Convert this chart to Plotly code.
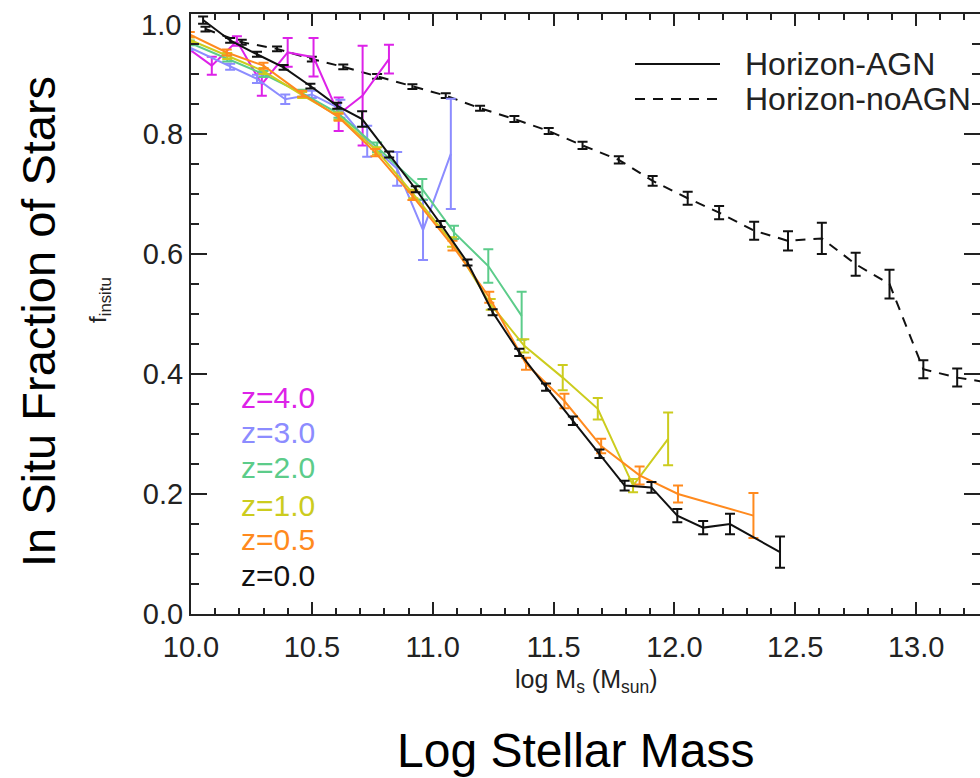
import plotly.graph_objects as go

# ---------------- data ----------------
noagn_x = [10.06, 10.21, 10.356, 10.50, 10.63, 10.77, 10.916, 11.054, 11.196, 11.338, 11.48, 11.62,
           11.77, 11.91, 12.055, 12.185, 12.33, 12.47, 12.61, 12.75, 12.89, 13.03, 13.17, 13.31]
noagn_y = [0.975, 0.953, 0.942, 0.925, 0.912, 0.896, 0.879, 0.864, 0.843, 0.825, 0.805, 0.781,
           0.757, 0.722, 0.693, 0.669, 0.639, 0.622, 0.626, 0.583, 0.550, 0.408, 0.394, 0.385]
noagn_e = [0.004, 0.004, 0.004, 0.004, 0.004, 0.004, 0.004, 0.004, 0.004, 0.005, 0.005, 0.006,
           0.006, 0.008, 0.011, 0.011, 0.015, 0.016, 0.026, 0.019, 0.024, 0.015, 0.015, 0.015]

agn_x = [10.05, 10.162, 10.273, 10.383, 10.494, 10.605, 10.708, 10.82, 10.93, 11.033, 11.144, 11.248,
         11.358, 11.469, 11.58, 11.69, 11.794, 11.905, 12.012, 12.119, 12.23, 12.437]
agn_y = [0.99, 0.956, 0.933, 0.911, 0.88, 0.847, 0.825, 0.766, 0.708, 0.65, 0.586, 0.503,
         0.436, 0.378, 0.322, 0.267, 0.214, 0.211, 0.164, 0.144, 0.15, 0.103]
agn_e = [0.006, 0.004, 0.004, 0.004, 0.004, 0.005, 0.013, 0.005, 0.005, 0.005, 0.005, 0.005,
         0.006, 0.006, 0.007, 0.007, 0.008, 0.009, 0.011, 0.011, 0.017, 0.026]

orange_x = [9.995, 10.148, 10.30, 10.46, 10.611, 10.763, 10.916, 11.082, 11.234, 11.386, 11.545,
            11.697, 11.856, 12.015, 12.327]
orange_y = [0.966, 0.936, 0.914, 0.867, 0.828, 0.769, 0.697, 0.614, 0.528, 0.417, 0.355,
            0.280, 0.231, 0.200, 0.164]
orange_e = [0.004, 0.005, 0.005, 0.005, 0.006, 0.006, 0.007, 0.008, 0.009, 0.010, 0.012,
            0.012, 0.015, 0.014, 0.0375]

yellow_x = [9.995, 10.15, 10.30, 10.46, 10.61, 10.77, 10.92, 11.08, 11.24, 11.379, 11.538,
            11.683, 11.829, 11.974]
yellow_y = [0.957, 0.930, 0.905, 0.865, 0.830, 0.772, 0.700, 0.620, 0.516, 0.447, 0.394,
            0.342, 0.214, 0.292]
yellow_e = [0.004, 0.005, 0.005, 0.005, 0.006, 0.006, 0.007, 0.008, 0.009, 0.011, 0.021,
            0.018, 0.011, 0.044]

green_x = [9.995, 10.15, 10.30, 10.46, 10.61, 10.77, 10.957, 11.088, 11.23, 11.368]
green_y = [0.952, 0.926, 0.900, 0.868, 0.834, 0.778, 0.708, 0.636, 0.580, 0.497]
green_e = [0.004, 0.005, 0.005, 0.006, 0.007, 0.008, 0.017, 0.011, 0.028, 0.040]

blue_x = [9.99, 10.162, 10.273, 10.39, 10.50, 10.618, 10.729, 10.853, 10.96, 11.075]
blue_y = [0.945, 0.912, 0.892, 0.858, 0.866, 0.842, 0.788, 0.742, 0.640, 0.767]
blue_e = [0.005, 0.005, 0.007, 0.008, 0.006, 0.015, 0.026, 0.028, 0.050, 0.092]

mag_x = [9.98, 10.086, 10.19, 10.293, 10.40, 10.507, 10.611, 10.71, 10.819]
mag_y = [0.945, 0.914, 0.955, 0.883, 0.936, 0.928, 0.833, 0.864, 0.925]
mag_e = [0.010, 0.015, 0.008, 0.019, 0.024, 0.032, 0.028, 0.083, 0.024]

z_labels = ["z=4.0", "z=3.0", "z=2.0", "z=1.0", "z=0.5", "z=0.0"]
z_colors = ["#dd22e8", "#8c8cff", "#5ccc8a", "#cccc1e", "#ff8a1e", "#111111"]
legend_names = ["Horizon-AGN", "Horizon-noAGN"]
top_ylabel = "1.0"

FONT = "Liberation Sans, Arial, Helvetica, sans-serif"
W, H = 980, 778
ML, MR, MT, MB = 191, 0, 14, 164
PW, PH = W - ML - MR, H - MT - MB
XR = [10.0, 10.0 + PW / 241.7]


def px(xp):
    return (xp - ML) / PW


def py(yp):
    return (MT + PH - yp) / PH


fig = go.Figure()


def add_series(x, y, e, color, dash="solid"):
    fig.add_trace(go.Scatter(
        x=x, y=y, mode="lines",
        line=dict(color=color, width=2, dash=dash),
        error_y=dict(type="data", array=e, visible=True, color=color, thickness=2, width=5),
        showlegend=False, hoverinfo="skip"))


add_series(noagn_x, noagn_y, noagn_e, "#111111", dash="10px,8px")
add_series(mag_x, mag_y, mag_e, z_colors[0])
add_series(blue_x, blue_y, blue_e, z_colors[1])
add_series(green_x, green_y, green_e, z_colors[2])
add_series(yellow_x, yellow_y, yellow_e, z_colors[3])
add_series(orange_x, orange_y, orange_e, z_colors[4])
add_series(agn_x, agn_y, agn_e, z_colors[5])

axis_common = dict(
    showline=True, linecolor="#222222", linewidth=2, mirror="ticks",
    ticks="inside", tickcolor="#222222", tickwidth=2,
    showgrid=False, zeroline=False, tickformat=".1f",
    tickfont=dict(family=FONT, size=29, color="#222222"),
)
fig.update_xaxes(range=XR, tick0=10, dtick=0.5, ticklen=12, ticklabelstandoff=6,
                 minor=dict(dtick=0.1, ticklen=6, tickwidth=1.5, ticks="inside", tickcolor="#222222"),
                 **axis_common)
# the top label (1.0) sits just below its tick in the original; it is written as an annotation below
fig.update_yaxes(range=[0, 1.0001], tick0=0, dtick=0.2, ticklen=16, labelalias={top_ylabel: " "},
                 minor=dict(dtick=0.05, ticklen=8, tickwidth=1.5, ticks="inside", tickcolor="#222222"),
                 **axis_common)

ann = []
ann.append(dict(text=top_ylabel, x=px(183), y=py(25), xref="paper", yref="paper", showarrow=False,
                font=dict(family=FONT, size=29, color="#222222"), xanchor="right", yanchor="middle"))
# axis titles
ann.append(dict(text="log M<sub>s</sub> (M<sub>sun</sub>)", x=px(586), y=py(681), xref="paper", yref="paper",
                showarrow=False, font=dict(family=FONT, size=25, color="#222222"), xanchor="center", yanchor="middle"))
ann.append(dict(text="f<sub>insitu</sub>", x=px(99), y=py(300), xref="paper", yref="paper",
                showarrow=False, textangle=-90, font=dict(family=FONT, size=24, color="#222222"),
                xanchor="center", yanchor="middle"))
# big titles
ann.append(dict(text="Log Stellar Mass", x=px(576), y=py(750), xref="paper", yref="paper",
                showarrow=False, font=dict(family=FONT, size=48, color="#000000"), xanchor="center", yanchor="middle"))
ann.append(dict(text="In Situ Fraction of Stars", x=px(38), y=py(322), xref="paper", yref="paper",
                showarrow=False, textangle=-90, font=dict(family=FONT, size=47, color="#000000"),
                xanchor="center", yanchor="middle"))
# z labels
z_y = [397, 432, 468, 505, 539, 575]
for lab, col, yy in zip(z_labels, z_colors, z_y):
    ann.append(dict(text=lab, x=px(239), y=py(yy), xref="paper", yref="paper", showarrow=False,
                    font=dict(family=FONT, size=30, color=col), xanchor="left", yanchor="middle"))
# legend
leg_y = [64, 99]
for name, yy in zip(legend_names, leg_y):
    ann.append(dict(text=name, x=px(743), y=py(yy), xref="paper", yref="paper", showarrow=False,
                    font=dict(family=FONT, size=32, color="#222222"), xanchor="left", yanchor="middle"))

shapes = [
    dict(type="line", xref="paper", yref="paper", x0=px(635), x1=px(720), y0=py(leg_y[0]), y1=py(leg_y[0]),
         line=dict(color="#111111", width=2)),
    dict(type="line", xref="paper", yref="paper", x0=px(635), x1=px(720), y0=py(leg_y[1]), y1=py(leg_y[1]),
         line=dict(color="#111111", width=2, dash="10px,8px")),
]

fig.update_layout(
    width=W, height=H, margin=dict(l=ML, r=MR, t=MT, b=MB, autoexpand=False),
    paper_bgcolor="white", plot_bgcolor="white",
    annotations=ann, shapes=shapes, showlegend=False,
)

fig.write_html("out.html")
